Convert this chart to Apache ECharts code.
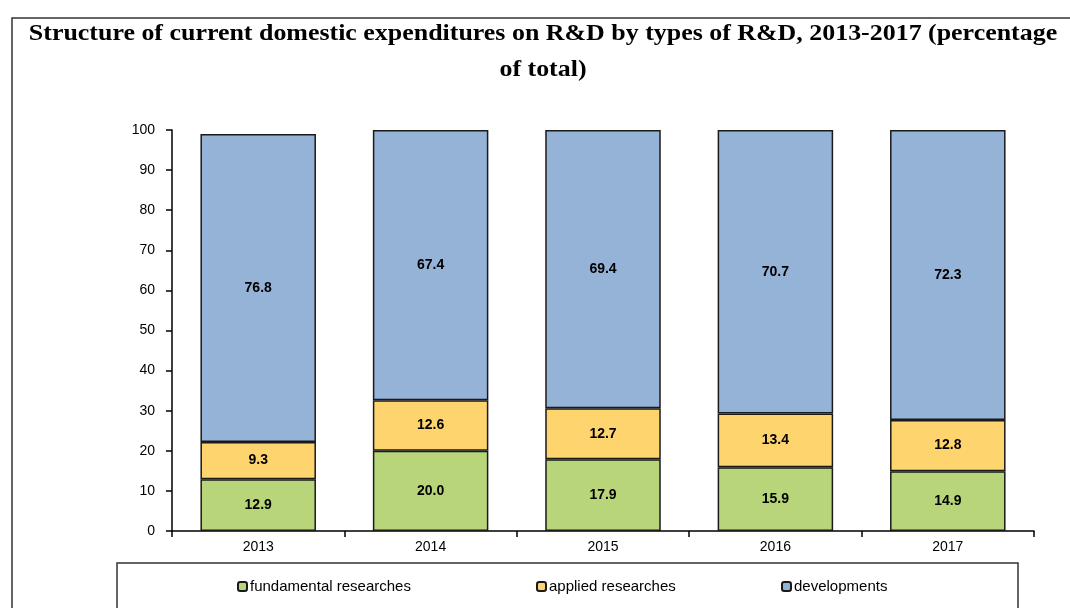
<!DOCTYPE html>
<html>
<head>
<meta charset="utf-8">
<script src="https://cdn.jsdelivr.net/npm/echarts@6/dist/echarts.min.js"></script>
<style>
  html, body { margin: 0; padding: 0; background: #fff; }
  #chart { width: 1070px; height: 608px; }
</style>
</head>
<body>
<div id="chart"></div>
<script>
// years and shares (percentage of total)
var years = ['2013', '2014', '2015', '2016', '2017'];
var fundamental = [12.9, 20.0, 17.9, 15.9, 14.9];
var applied = [9.3, 12.6, 12.7, 13.4, 12.8];
var developments = [76.8, 67.4, 69.4, 70.7, 72.3];
var yTicks = [0, 10, 20, 30, 40, 50, 60, 70, 80, 90, 100];

var chart = echarts.init(document.getElementById('chart'));

function makeSeries(name, data, color) {
  return {
    name: name,
    type: 'bar',
    stack: 'total',
    data: data,
    barCategoryGap: '33%',
    itemStyle: { color: color, borderColor: '#1a1a1a', borderWidth: 1.5 },
    label: {
      show: true,
      position: 'inside',
      color: '#000',
      fontFamily: 'Liberation Sans, Arial',
      fontWeight: 'bold',
      fontSize: 14,
      formatter: function (p) { return p.value.toFixed(1); }
    }
  };
}

function legendAt(name, left) {
  return {
    data: [name],
    left: left,
    top: 574,
    itemWidth: 9,
    itemHeight: 9,
    itemGap: 3,
    textStyle: { fontFamily: 'Liberation Sans, Arial', fontSize: 15, color: '#000', padding: [0, 0, 0, -2] }
  };
}

chart.setOption({
  animation: false,
  graphic: [
    { type: 'rect', shape: { x: 12, y: 18, width: 1070, height: 620 }, style: { fill: 'none', stroke: '#333', lineWidth: 1.5 }, silent: true },
    { type: 'rect', shape: { x: 117, y: 563, width: 901, height: 80 }, style: { fill: 'none', stroke: '#333', lineWidth: 1.5 }, silent: true },
    {
      type: 'text',
      x: 543,
      y: 16,
      scaleX: 1.08,
      originX: 0,
      silent: true,
      style: {
        text: 'Structure of current domestic expenditures on R&D by types of R&D, 2013-2017 (percentage\nof total)',
        align: 'center',
        verticalAlign: 'top',
        fill: '#000',
        font: 'bold 24px "Liberation Serif", "Times New Roman", serif',
        lineHeight: 36
      }
    }
  ],
  legend: [
    legendAt('fundamental researches', 232),
    legendAt('applied researches', 531),
    legendAt('developments', 776)
  ],
  grid: { left: 172, right: 36, top: 130, bottom: 77 },
  xAxis: {
    type: 'category',
    data: years,
    axisLine: { lineStyle: { color: '#000', width: 1.5 } },
    axisTick: { show: true, length: 6, lineStyle: { color: '#000', width: 1.5 } },
    axisLabel: { fontFamily: 'Liberation Sans, Arial', fontSize: 14, color: '#000', margin: 9 }
  },
  yAxis: {
    type: 'value',
    min: yTicks[0],
    max: yTicks[yTicks.length - 1],
    interval: 10,
    axisLine: { show: true, lineStyle: { color: '#000', width: 1.5 } },
    axisTick: { show: true, length: 6, lineStyle: { color: '#000', width: 1.5 } },
    splitLine: { show: false },
    axisLabel: { fontFamily: 'Liberation Sans, Arial', fontSize: 14, color: '#000', margin: 17 }
  },
  series: [
    makeSeries('fundamental researches', fundamental, '#b8d57a'),
    makeSeries('applied researches', applied, '#fed46f'),
    makeSeries('developments', developments, '#95b2d7')
  ]
});
</script>
</body>
</html>
